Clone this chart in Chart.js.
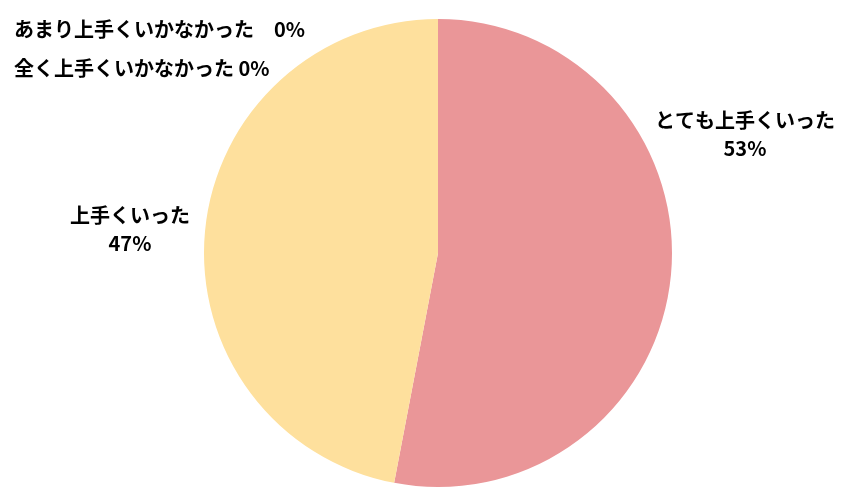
<!DOCTYPE html>
<html>
<head>
<meta charset="utf-8">
<script src="https://cdn.jsdelivr.net/npm/chart.js@4"></script>
<style>
  html, body { margin: 0; padding: 0; background: #ffffff; }
  #wrap { width: 854px; height: 492px; position: relative; }
</style>
</head>
<body>
<div id="wrap"><canvas id="c" width="854" height="492"></canvas></div>
<script>
const categories = ['とても上手くいった', '上手くいった', 'あまり上手くいかなかった', '全く上手くいかなかった'];
const values = [53, 47, 0, 0];
const colors = ['#EA9698', '#FEE09D', '#A9C4E8', '#C5E0B4'];

// label placement (layout only)
const labelLayout = [
  { x: 745, y: 120, mode: 'two', align: 'center' },
  { x: 130, y: 215, mode: 'two', align: 'center' },
  { x: 14, y: 29, mode: 'one', sep: '　', align: 'left' },
  { x: 14, y: 68, mode: 'one', sep: ' ', align: 'left' }
];

const labelPlugin = {
  id: 'pieLabels',
  afterDraw(chart) {
    const ctx = chart.ctx;
    const ds = chart.data.datasets[0];
    ctx.save();
    ctx.fillStyle = '#000000';
    ctx.font = 'bold 20px "Noto Sans CJK JP", "Noto Sans", sans-serif';
    ctx.textBaseline = 'middle';
    chart.data.labels.forEach((name, i) => {
      const L = labelLayout[i];
      const pct = ds.data[i] + '%';
      ctx.textAlign = L.align;
      if (L.mode === 'two') {
        ctx.fillText(name, L.x, L.y);
        ctx.fillText(pct, L.x, L.y + 28);
      } else {
        ctx.fillText(name + L.sep + pct, L.x, L.y);
      }
    });
    ctx.restore();
  }
};

new Chart(document.getElementById('c'), {
  type: 'pie',
  data: {
    labels: categories,
    datasets: [{
      data: values,
      backgroundColor: colors,
      borderWidth: 0
    }]
  },
  options: {
    responsive: false,
    animation: false,
    layout: { padding: { left: 204, right: 182, top: 19, bottom: 5 } },
    plugins: {
      legend: { display: false },
      tooltip: { enabled: false }
    }
  },
  plugins: [labelPlugin]
});
</script>
</body>
</html>
